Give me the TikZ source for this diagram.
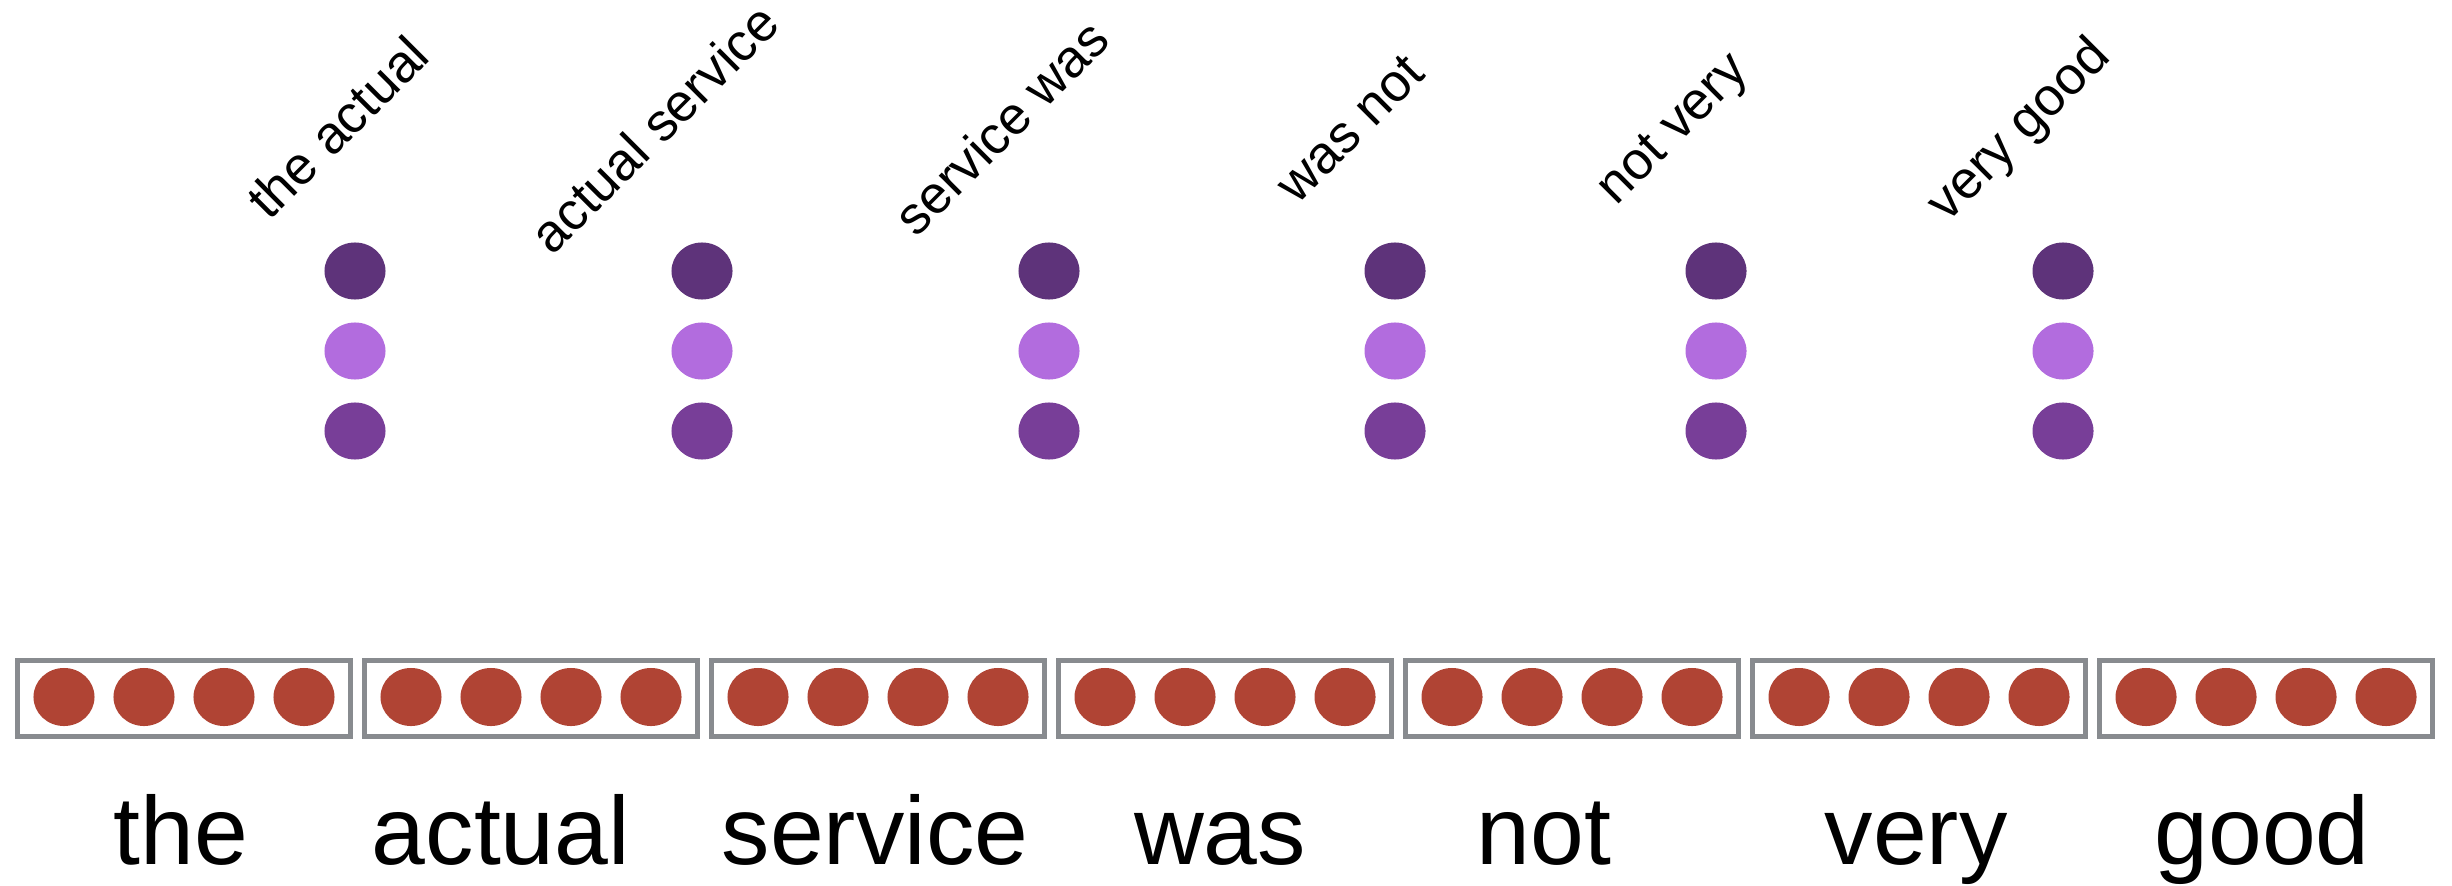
\documentclass[tikz,border=0pt]{standalone}
\usepackage{fontspec}
\setmainfont{Liberation Sans}
\usetikzlibrary{shapes.geometric}
\definecolor{boxgray}{HTML}{888B8F}
\definecolor{dotred}{HTML}{B04434}
\definecolor{pdark}{HTML}{5E337A}
\definecolor{plight}{HTML}{B26CDE}
\definecolor{pmid}{HTML}{783E98}
\tikzset{
  wordbox/.style={draw=boxgray, line width=0.05cm, minimum width=3.33cm, minimum height=0.76cm, inner sep=0pt, fill=white},
  reddot/.style={ellipse, fill=dotred, minimum width=0.61cm, minimum height=0.58cm, inner sep=0pt},
  pdot/.style={ellipse, minimum width=0.61cm, minimum height=0.57cm, inner sep=0pt},
  word/.style={anchor=base, inner sep=0pt, font=\fontsize{27.5}{31}\selectfont},
  bigram/.style={anchor=base west, rotate=45, inner sep=0pt, font=\fontsize{15.1}{18}\selectfont}
}
\begin{document}
\begin{tikzpicture}[x=0.01cm, y=-0.01cm]
\useasboundingbox (0,0) rectangle (2452,885);
% word boxes with embeddings
\foreach \i/\w in {1/the, 2/actual, 3/service, 4/was, 5/not, 6/very, 7/good} {
  \pgfmathsetmacro{\cx}{184+347*(\i-1)}
  \node[wordbox] (box\i) at (\cx,698.5) {};
  \foreach \j/\o in {1/-120, 2/-40, 3/40, 4/120} {
    \node[reddot] (e\i\j) at (\cx+\o,697) {};
  }
}
% words
\node[word] (w1) at (181,864) {the};
\node[word] (w2) at (501,864) {actual};
\node[word] (w3) at (875,864) {service};
\node[word] (w4) at (1220,864) {was};
\node[word] (w5) at (1544,864) {not};
\node[word] (w6) at (1916,864) {very};
\node[word] (w7) at (2262,864) {good};
% bigram feature columns
\foreach \k/\cx in {1/355, 2/702, 3/1049, 4/1395, 5/1716, 6/2063} {
  \node[pdot, fill=pdark] (f\k a) at (\cx,271) {};
  \node[pdot, fill=plight] (f\k b) at (\cx,351) {};
  \node[pdot, fill=pmid] (f\k c) at (\cx,431) {};
}
% bigram labels
\node[bigram] (b1) at (269,222) {the actual};
\node[bigram] (b2) at (552,257) {actual service};
\node[bigram] (b3) at (916,239) {service was};
\node[bigram] (b4) at (1297,206) {was not};
\node[bigram] (b5) at (1616,207) {not very};
\node[bigram] (b6) at (1947,224) {very good};
\end{tikzpicture}
\end{document}
